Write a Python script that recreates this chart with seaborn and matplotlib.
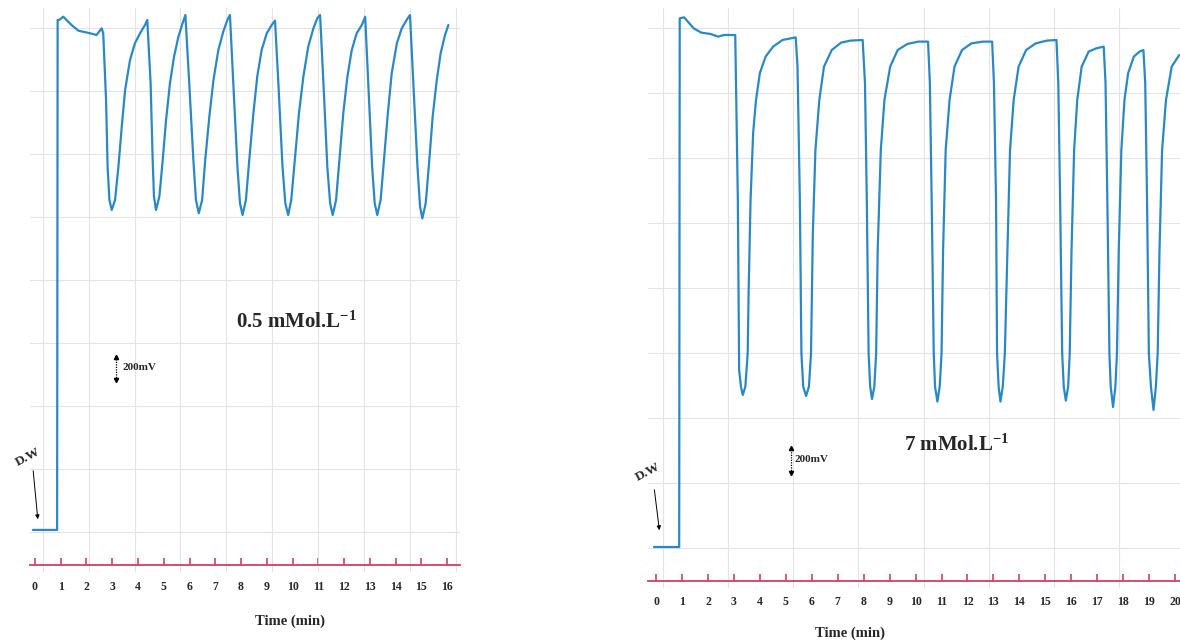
import matplotlib
matplotlib.use("Agg")
import matplotlib.pyplot as plt
import seaborn as sns
import pandas as pd
from matplotlib.ticker import MultipleLocator, FixedLocator

# ---------------- data ----------------
left_time = [-0.08, 0.86, 0.88, 0.94, 1.10, 1.42, 1.68, 2.14, 2.39, 2.59, 2.65,
             2.76, 2.82, 2.89, 2.98,
             3.11, 3.24, 3.37, 3.50, 3.69, 3.88, 4.08, 4.27, 4.36,
             4.49, 4.57, 4.62, 4.70,
             4.83, 4.96, 5.09, 5.24, 5.40, 5.57, 5.73, 5.84,
             5.99, 6.15, 6.25, 6.36,
             6.49, 6.61, 6.77, 6.93, 7.12, 7.31, 7.47, 7.57,
             7.70, 7.86, 7.96, 8.06,
             8.19, 8.32, 8.48, 8.63, 8.80, 9.00, 9.19, 9.32,
             9.45, 9.61, 9.72, 9.83,
             9.95, 10.10, 10.25, 10.42, 10.61, 10.81, 10.96, 11.07,
             11.20, 11.35, 11.46, 11.56,
             11.69, 11.82, 11.97, 12.13, 12.30, 12.49, 12.69, 12.82,
             12.94, 13.09, 13.19, 13.29,
             13.42, 13.55, 13.70, 13.85, 14.05, 14.24, 14.43, 14.56,
             14.69, 14.85, 14.95, 15.04,
             15.17, 15.30, 15.44, 15.60, 15.75, 15.92, 16.05]
left_mv = [305, 305, 4742, 4742, 4770, 4698, 4649, 4626, 4611, 4669, 4626,
           4046, 3466, 3176, 3089,
           3176, 3466, 3814, 4133, 4394, 4539, 4626, 4698, 4742,
           4191, 3524, 3205, 3089,
           3205, 3524, 3872, 4191, 4423, 4597, 4713, 4785,
           4191, 3524, 3176, 3060,
           3176, 3524, 3901, 4220, 4481, 4640, 4742, 4785,
           4191, 3466, 3147, 3045,
           3176, 3524, 3930, 4249, 4481, 4626, 4698, 4736,
           4191, 3466, 3147, 3045,
           3176, 3553, 3930, 4249, 4510, 4669, 4756, 4785,
           4191, 3466, 3147, 3045,
           3176, 3524, 3930, 4249, 4481, 4626, 4698, 4770,
           4191, 3466, 3147, 3045,
           3176, 3524, 3930, 4278, 4539, 4669, 4742, 4785,
           4191, 3466, 3118, 3016,
           3147, 3495, 3901, 4220, 4452, 4611, 4698]

right_time = [-0.08, 0.89, 0.91, 1.08, 1.45, 1.74, 2.10, 2.40, 2.61, 3.05,
              3.15, 3.20, 3.27, 3.34,
              3.44, 3.53, 3.56, 3.64, 3.74, 3.85, 4.00, 4.22, 4.51, 4.87, 5.38,
              5.45, 5.54, 5.60, 5.67, 5.78,
              5.89, 5.97, 6.04, 6.14, 6.29, 6.47, 6.77, 7.13, 7.49, 7.96,
              8.05, 8.12, 8.19, 8.25, 8.32,
              8.41, 8.48, 8.54, 8.66, 8.80, 9.02, 9.31, 9.68, 10.11, 10.48,
              10.55, 10.62, 10.70, 10.75, 10.84,
              10.93, 11.00, 11.06, 11.16, 11.31, 11.50, 11.79, 12.15, 12.59, 12.95,
              13.02, 13.10, 13.14, 13.20, 13.27,
              13.36, 13.44, 13.54, 13.64, 13.78, 13.97, 14.26, 14.63, 15.06, 15.43,
              15.50, 15.57, 15.65, 15.71, 15.79,
              15.88, 15.94, 16.01, 16.11, 16.23, 16.40, 16.67, 16.96, 17.25,
              17.32, 17.39, 17.47, 17.52, 17.61,
              17.70, 17.76, 17.83, 17.93, 18.05, 18.19, 18.41, 18.63, 18.78,
              18.85, 18.92, 18.99, 19.07, 19.17,
              19.26, 19.33, 19.40, 19.50, 19.65, 19.87, 20.16]
right_mv = [272, 272, 4501, 4509, 4421, 4387, 4376, 4355, 4368, 4368,
            3048, 1688, 1555, 1488,
            1555, 1821, 2248, 3048, 3584, 3848, 4064, 4195, 4275, 4328, 4349,
            4115, 3048, 1821, 1555, 1480,
            1555, 1821, 2781, 3448, 3848, 4115, 4248, 4307, 4323, 4328,
            3984, 3048, 1821, 1555, 1456,
            1555, 1821, 2648, 3448, 3848, 4115, 4248, 4296, 4315, 4315,
            3984, 3048, 1821, 1555, 1435,
            1555, 1821, 2648, 3448, 3848, 4115, 4248, 4301, 4315, 4315,
            3984, 3048, 1821, 1555, 1435,
            1555, 1821, 2648, 3448, 3848, 4115, 4248, 4301, 4323, 4328,
            3984, 3048, 1821, 1555, 1443,
            1555, 1821, 2648, 3448, 3848, 4115, 4235, 4261, 4275,
            3984, 3048, 1821, 1555, 1392,
            1555, 1821, 2648, 3448, 3848, 4061, 4195, 4235, 4248,
            3984, 3048, 1821, 1555, 1368,
            1555, 1821, 2648, 3448, 3848, 4115, 4208]

left_ticks = [0, 1, 2, 3, 4, 5, 6, 7, 8, 9, 10, 11, 12, 13, 14, 15, 16]
right_ticks = [0, 1, 2, 3, 4, 5, 6, 7, 8, 9, 10, 11, 12, 13, 14, 15, 16, 17, 18, 19, 20]
left_title = r"0.5 mMol.L$^{\mathbf{-1}}$"
right_title = r"7 mMol.L$^{\mathbf{-1}}$"
x_label = "Time (min)"
scale_label = "200mV"
scale_value = 200
start_label = "D.W"

# ---------------- style ----------------
sns.set_theme(style="white")
plt.rcParams["font.family"] = ["Liberation Serif", "DejaVu Serif"]
plt.rcParams["font.weight"] = "bold"
plt.rcParams["mathtext.fontset"] = "custom"
plt.rcParams["mathtext.rm"] = "Liberation Serif:bold"
plt.rcParams["mathtext.bf"] = "Liberation Serif:bold"
plt.rcParams["mathtext.it"] = "Liberation Serif:bold"

TRACE = "#2a88c5"
RED = "#d0405e"
GRID = "#e3e3e3"

fig = plt.figure(figsize=(11.8, 6.4), dpi=100)
axL = fig.add_axes([0.0254, 0.10625, 0.3644, 0.88125])
axR = fig.add_axes([0.5492, 0.08125, 0.4508, 0.90625])


def panel(ax, t, mv, ticks, xlim, ylim, grid_x, grid_y, title, title_xy,
          bar_x, bar_y0, lab_xy, dw_xy, arrow_from, arrow_to, xlabel_xy, tick_pad):
    df = pd.DataFrame({"t": t, "mv": mv})
    sns.lineplot(data=df, x="t", y="mv", ax=ax, sort=False, estimator=None,
                 color=TRACE, lw=1.6)
    ax.set_xlim(*xlim)
    ax.set_ylim(*ylim)
    for s in ["top", "right", "left"]:
        ax.spines[s].set_visible(False)
    ax.spines["bottom"].set_position(("data", 0))
    ax.spines["bottom"].set_color(RED)
    ax.spines["bottom"].set_linewidth(1.3)
    # chart-paper grid
    ax.xaxis.set_minor_locator(MultipleLocator(grid_x[0], offset=grid_x[1]))
    ax.yaxis.set_minor_locator(MultipleLocator(grid_y[0], offset=grid_y[1]))
    ax.grid(which="minor", color=GRID, lw=0.8)
    ax.grid(which="major", visible=False)
    ax.set_axisbelow(True)
    ax.set_yticks([])
    ax.xaxis.set_major_locator(FixedLocator(ticks))
    ax.tick_params(axis="x", which="major", direction="in", length=5, width=1.2,
                   color=RED, pad=tick_pad, bottom=True, labelsize=8.5)
    ax.tick_params(which="minor", length=0)
    ax.set_xticklabels([str(v) for v in ticks], fontweight="bold")
    ax.set_ylabel("")
    ax.set_xlabel(x_label, fontweight="bold", fontsize=10.5)
    ax.xaxis.set_label_coords(*xlabel_xy)
    # annotations
    ax.text(title_xy[0], title_xy[1], title, fontsize=15, fontweight="bold",
            ha="center", va="center")
    ax.plot([bar_x, bar_x], [bar_y0, bar_y0 + scale_value], color="black",
            lw=0.9, ls=(0, (1, 1)))
    ax.plot([bar_x], [bar_y0], marker="v", color="black", ms=3)
    ax.plot([bar_x], [bar_y0 + scale_value], marker="^", color="black", ms=3)
    ax.text(lab_xy[0], lab_xy[1], scale_label, fontsize=8, fontweight="bold",
            ha="left", va="center")
    ax.text(dw_xy[0], dw_xy[1], start_label, fontsize=9.5, fontweight="bold",
            ha="center", va="center", rotation=28, clip_on=False)
    ax.annotate("", xy=arrow_to, xytext=arrow_from,
                arrowprops=dict(arrowstyle="-|>", color="black", lw=0.7,
                                mutation_scale=6), annotation_clip=False)


panel(axL, left_time, left_mv, left_ticks, (-0.194, 16.5), (-61, 4846),
      (1.78, 0.31), (548, 288), left_title, (10.17, 2114),
      3.15, 1610, (3.4, 1714), (-0.27, 940), (-0.08, 844), (0.12, 374),
      (0.605, -0.076), 11.5)
panel(axR, right_time, right_mv, right_ticks, (-0.31, 20.19), (-56, 4584),
      (2.51, 0.27), (520, 264), right_title, (11.57, 1088),
      5.18, 864, (5.35, 968), (-0.30, 872), (-0.08, 752), (0.14, 384),
      (0.38, -0.066), 11.0)

fig.savefig("out.png", dpi=100)
